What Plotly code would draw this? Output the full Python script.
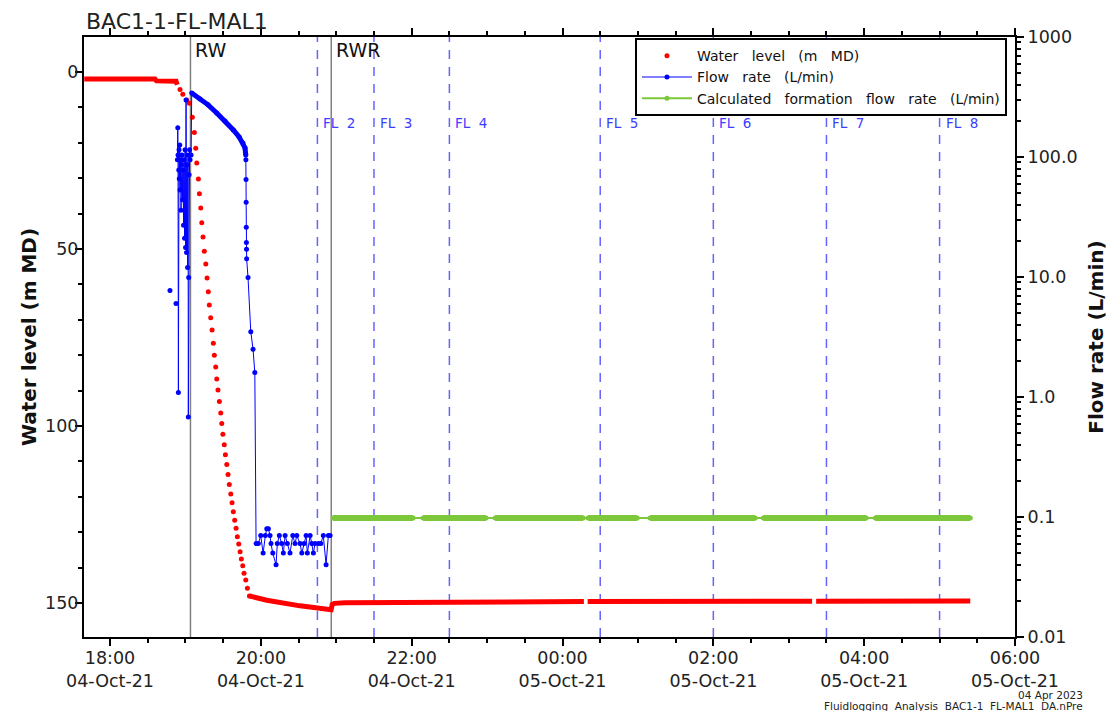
import pandas as pd
import plotly.graph_objects as go

# Reference clock: every time below is given in minutes after this instant
START = pd.Timestamp("2021-10-04 18:00")

# ---------------- Water level (m MD), left axis ----------------
# densely logged stretches (drawn as a solid band)
level_line_min = [-20.5, 35.8, 37.0, 52.5, 53.5, None,
                  110.9, 124.7, 151.2, 175.1, 175.9, 176.8, 178.5, 187.0, 270.6, 377.0, None,
                  380.0, 558.6, None, 561.8, 684.4]
level_line_m = [2.0, 2.0, 2.5, 2.6, 3.6, None,
                148.0, 149.2, 150.8, 151.8, 151.9, 150.4, 150.1, 149.9, 149.7, 149.6, None,
                149.6, 149.5, None, 149.5, 149.4]
# sparse readings while the well is being drawn down
level_dot_min = [55.7, 57.9, 61.0, 63.1,
                 65.5, 67.1, 68.2, 69.0, 70.3, 71.1, 72.2, 73.0, 74.0, 75.0,
                 76.2, 77.2, 78.2, 79.0, 80.1, 81.2, 82.2, 83.0, 84.1, 84.9,
                 85.9, 87.0, 88.1, 88.9, 89.8, 90.9, 91.8, 92.9, 93.9, 94.9,
                 96.1, 97.1, 98.1, 99.2, 100.3, 101.3, 102.4, 103.5, 104.5, 105.6,
                 106.6, 108.0, 109.3, 110.9]
level_dot_m = [4.9, 6.3, 7.9, 8.8,
               12.8, 17.1, 21.5, 25.7, 30.2, 34.4, 38.4, 42.6, 46.6, 50.6,
               54.2, 58.2, 62.1, 65.8, 69.4, 72.9, 76.6, 80.0, 83.3, 86.7,
               89.8, 93.1, 96.3, 99.3, 102.3, 105.3, 108.1, 110.9, 113.7, 116.5,
               119.2, 121.7, 124.2, 126.6, 128.9, 131.3, 133.3, 135.5, 137.6, 139.5,
               141.6, 143.5, 145.8, 148.0]

# ---------------- Flow rate (L/min), right log axis ----------------
flow_min = [47.7, None, 52.5, None,
            53.6, 53.9, 54.1, 54.4, 54.7, 54.9, 55.1, 55.5, 55.7, 56.1,
            56.5, 56.9, 57.3, 57.7, 58.1, 58.5, 58.9, 59.3, 59.7, 60.1,
            60.5, 60.9, 61.3, 61.7, 62.1, 62.3, 62.6, 62.9, 63.3, 63.7, 64.5,
            65.0, 71.6, 78.0, 84.9, 91.5, 98.1, 102.7, 105.8, 107.4,
            108.0, 108.1, 108.2, 108.3, 108.4, 108.5, 108.6, 108.7, 109.8, 112.0, 113.8, 115.2,
            116.2, 118.0, 119.9, 121.8, 123.6, 124.7, 126.0, 127.3, 128.1, 129.5,
            132.1, 133.1, 134.7, 136.6, 137.9, 139.3, 141.1, 143.2, 145.4, 147.2,
            148.6, 151.2, 152.6, 154.4, 156.0, 157.0, 159.2, 160.5, 161.8, 163.1,
            165.8, 167.7, 169.7, 171.9, 173.7, 175.1]
flow_val = [7.7, None, 6.0, None,
            95, 175, 104, 1.09, 78, 115, 66, 126, 53, 95,
            36, 86, 104, 44, 78, 27, 95, 21, 115, 17.6,
            299, 16, 86, 12, 104, 0.68, 9.9, 71, 115, 95, 104,
            342, 305, 272, 233, 200, 168, 147, 131, 119,
            104, 95, 65, 42, 26, 19.4, 17, 14.2, 9.9, 3.5, 2.5, 1.6,
            0.06, 0.06, 0.07, 0.05, 0.07, 0.08, 0.08, 0.07, 0.06, 0.05,
            0.04, 0.06, 0.07, 0.06, 0.05, 0.07, 0.06, 0.05, 0.07, 0.06,
            0.07, 0.06, 0.05, 0.06, 0.07, 0.05, 0.07, 0.06, 0.05, 0.06,
            0.06, 0.06, 0.07, 0.04, 0.07, 0.07]
# stretch logged at a high rate right after RW (rendered as a solid band)
flow_dense = slice(35, 45)

# ---------------- Calculated formation flow rate (L/min) ----------------
# start/end of each continuously logged stretch
calc_min = [177.5, 241.1, 249.1, 299.2, 306.4, 376.4, 380.4, 419.4,
            429.7, 513.3, 519.7, 601.6, 608.8, 684.4]
calc_val = [0.098, 0.098, 0.098, 0.098, 0.098, 0.098, 0.098, 0.098,
            0.098, 0.098, 0.098, 0.098, 0.098, 0.098]

# ---------------- Event markers ----------------
event_names = ["RW", "RWR"]
event_times = ["2021-10-04 19:04", "2021-10-04 20:56"]
fl_names = ["FL 2", "FL 3", "FL 4", "FL 5", "FL 6", "FL 7", "FL 8"]
fl_times = ["2021-10-04 20:45", "2021-10-04 21:30", "2021-10-04 22:30",
            "2021-10-05 00:30", "2021-10-05 02:00", "2021-10-05 03:30",
            "2021-10-05 05:00"]

# axis labelling
level_ticks = [0, 50, 100, 150]
flow_tickvals = [0.01, 0.1, 1, 10, 100, 1000]
flow_ticktext = ["0.01", "0.1", "1.0", "10.0", "100.0", "1000"]

FONT = "DejaVu Sans"
RED, BLUE, GREEN = "#ff0000", "#0000ff", "#7cc83a"
NB = "\u00a0"


def clock(minutes):
    return [None if m is None else START + pd.Timedelta(minutes=m) for m in minutes]


def spaced(text, gap=2):
    # words are printed with wide gaps
    return text.replace(" ", NB * gap)


fig = go.Figure()

# calculated formation flow: thick logged stretches + thin joins
seg_x, seg_y = [], []
for i in range(0, len(calc_min), 2):
    seg_x += [calc_min[i], calc_min[i + 1], None]
    seg_y += [calc_val[i], calc_val[i + 1], None]
fig.add_trace(go.Scatter(x=clock(seg_x), y=seg_y, yaxis="y2", mode="lines",
                         line=dict(color=GREEN, width=6), showlegend=False,
                         hoverinfo="skip"))
fig.add_trace(go.Scatter(x=clock(calc_min), y=calc_val, yaxis="y2",
                         mode="lines+markers",
                         name=spaced("Calculated formation flow rate (L/min)", 3),
                         line=dict(color=GREEN, width=2), marker=dict(size=5, color=GREEN),
                         legendrank=3))

# flow rate
fig.add_trace(go.Scatter(x=clock(flow_min[flow_dense]), y=flow_val[flow_dense], yaxis="y2",
                         mode="lines", line=dict(color=BLUE, width=5), showlegend=False,
                         hoverinfo="skip"))
fig.add_trace(go.Scatter(x=clock(flow_min), y=flow_val, yaxis="y2", mode="lines+markers",
                         name=spaced("Flow rate (L/min)", 3), line=dict(color=BLUE, width=1),
                         marker=dict(size=5, color=BLUE), legendrank=2))

# water level
fig.add_trace(go.Scatter(x=clock(level_line_min), y=level_line_m, mode="lines",
                         line=dict(color=RED, width=5), showlegend=False, hoverinfo="skip"))
fig.add_trace(go.Scatter(x=clock(level_dot_min), y=level_dot_m, mode="markers",
                         name=spaced("Water level (m MD)", 3), marker=dict(size=5, color=RED),
                         legendrank=1))

# event lines and labels
for name, t in zip(event_names, event_times):
    fig.add_shape(type="line", xref="x", yref="paper", x0=t, x1=t, y0=0, y1=1,
                  line=dict(color="#808080", width=1.5), layer="below")
    fig.add_annotation(x=t, y=0.978, xref="x", yref="paper", text=name, showarrow=False,
                       xanchor="left", yanchor="middle", xshift=3,
                       font=dict(family=FONT, size=19, color="#111"))
for name, t in zip(fl_names, fl_times):
    fig.add_shape(type="line", xref="x", yref="paper", x0=t, x1=t, y0=0, y1=1,
                  line=dict(color="#6464ff", width=1.5, dash="9px,8px"), layer="below")
    fig.add_annotation(x=t, y=0.856, xref="x", yref="paper", text=spaced(name),
                       showarrow=False, xanchor="left", yanchor="middle", xshift=4,
                       font=dict(family=FONT, size=13.5, color="#3c3cff"))

# chart title and footer
fig.add_annotation(x=0, y=1, xref="paper", yref="paper", text="BAC1-1-FL-MAL1",
                   showarrow=False, xanchor="left", yanchor="bottom", yshift=1,
                   font=dict(family=FONT, size=22, color="#222"))
fig.add_annotation(x=1.075, y=-0.097, xref="paper", yref="paper", text="04 Apr 2023",
                   showarrow=False, xanchor="right", yanchor="middle",
                   font=dict(family=FONT, size=10.5, color="#222"))
fig.add_annotation(x=1.075, y=-0.115, xref="paper", yref="paper",
                   text=spaced("Fluidlogging Analysis BAC1-1 FL-MAL1 DA.nPre"),
                   showarrow=False, xanchor="right", yanchor="middle",
                   font=dict(family=FONT, size=10.5, color="#222"))

axis_common = dict(showline=True, linecolor="black", linewidth=2, ticks="outside",
                   ticklen=7, tickwidth=1.5, tickcolor="black", showgrid=False,
                   zeroline=False, tickfont=dict(family=FONT, size=17.5, color="#222"))

fig.update_layout(
    width=1115, height=711,
    margin=dict(l=84, r=100, t=37, b=74),
    paper_bgcolor="white", plot_bgcolor="white",
    font=dict(family=FONT, color="#222"),
    xaxis=dict(**axis_common, type="date",
               range=[START - pd.Timedelta(minutes=20.7), START + pd.Timedelta(minutes=720)],
               tick0=START, dtick=2 * 3600 * 1000, tickformat="%H:%M<br>%d-%b-%y",
               mirror="ticks", ticklabelstandoff=-3,
               minor=dict(dtick=30 * 60 * 1000, tick0=START, ticks="outside", ticklen=4,
                          tickcolor="black", showgrid=False)),
    yaxis=dict(**axis_common, range=[159.6, -9.9], tickmode="array", tickvals=level_ticks,
               ticklabelstandoff=-7,
               minor=dict(dtick=10, ticks="outside", ticklen=4, tickcolor="black",
                          showgrid=False),
               title=dict(text="<b>" + spaced("Water level (m MD)", 1) + "</b>",
                          standoff=3,
                          font=dict(family=FONT, size=20, color="#111"))),
    yaxis2=dict(**axis_common, type="log", range=[-2, 3], overlaying="y", side="right",
                tickmode="array", tickvals=flow_tickvals, ticktext=flow_ticktext,
                minor=dict(dtick="D1", ticks="outside", ticklen=4, tickcolor="black",
                           showgrid=False),
                title=dict(text="<b>Flow rate (L/min)</b>", standoff=12,
                           font=dict(family=FONT, size=20, color="#111"))),
    legend=dict(x=0.9914, y=0.998, xanchor="right", yanchor="top", bgcolor="white",
                bordercolor="black", borderwidth=2, itemwidth=50,
                font=dict(family=FONT, size=14, color="#111"), tracegroupgap=0),
    showlegend=True,
)

fig.write_html("out.html")
